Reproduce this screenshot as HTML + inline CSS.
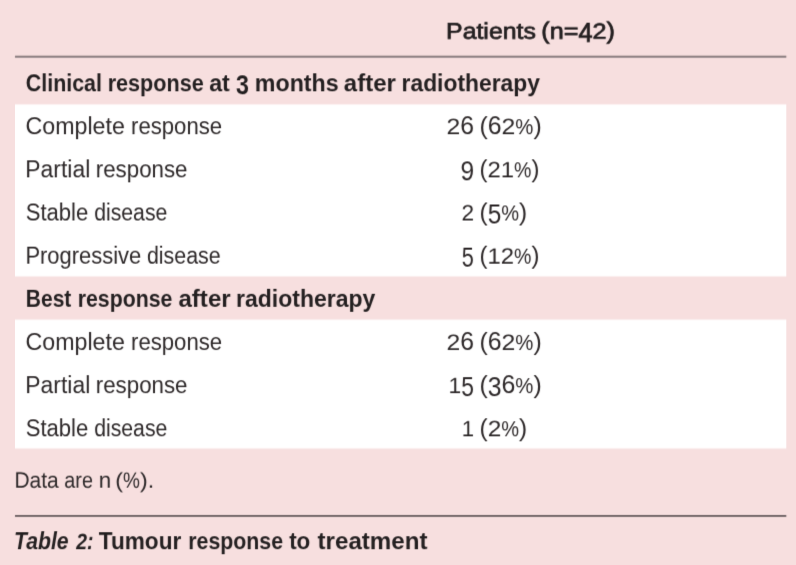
<!DOCTYPE html>
<html lang="en">
<head>
<meta charset="utf-8">
<title>Table 2: Tumour response to treatment</title>
<style>
html,body{margin:0;padding:0;}
body{width:796px;height:565px;background:#f7dfdf;position:relative;overflow:hidden;
  font-family:"Liberation Sans",sans-serif;color:#2d2829;}
#bg{position:absolute;left:0;top:0;width:796px;height:565px;display:block;}
table{border-collapse:collapse;border-spacing:0;margin:0;padding:0;width:771px;position:static;}
td,th,caption,p{padding:0;margin:0;border:0;font-weight:inherit;text-align:left;}
.ln{position:absolute;left:0;top:0;width:796px;height:565px;box-sizing:border-box;white-space:nowrap;font-size:0;line-height:0;display:block;}
.w{display:inline-block;width:0;vertical-align:top;white-space:nowrap;font-size:var(--fs);line-height:var(--lh);transform-origin:0 0;}
.n{font-weight:normal;}
.h{font-weight:normal;text-rendering:geometricPrecision;-webkit-text-stroke:0.75px #231f20;color:#231f20;}
.b{font-weight:bold;color:#231f20;}
.f{font-weight:normal;text-rendering:geometricPrecision;}
.i{font-style:italic;}
.da,.dd,.de,.dn,.pc,.pa{display:inline-block;line-height:inherit;vertical-align:baseline;}
.da{transform-origin:0 var(--a);transform:scaleY(1.15);}
.dd{transform-origin:0 var(--a);transform:translateY(3px) scaleY(1.19);}
.de{transform-origin:0 var(--a);transform:translateY(3px) scaleY(1.19);}
.dn{transform-origin:0 var(--a);transform:scaleY(0.97);text-rendering:geometricPrecision;}
.b .de{transform:translateY(3px) scaleY(1.2);}
.pc{transform-origin:0 var(--a);transform:scaleY(1.2);}
.pa{transform-origin:0 var(--a);transform:scaleY(1.05);}
.pc{font-size:0.82em;}
.f .pa{transform:scaleY(0.95);}
</style><style>#rules{filter:url(#f0);}</style>
</head>
<body>
<div id="page">
<svg id="bg" width="796" height="565" viewBox="0 0 796 565" aria-hidden="true"><defs><filter id="vsoft" filterUnits="userSpaceOnUse" x="0" y="0" width="796" height="565" color-interpolation-filters="sRGB"><feConvolveMatrix order="1 3" kernelMatrix="0.2 0.6 0.2" divisor="1" edgeMode="none" preserveAlpha="false"/></filter></defs><rect x="15.0" y="104.4" width="771.30" height="172.05" fill="#ffffff" filter="url(#vsoft)"/><rect x="15.0" y="319.6" width="771.30" height="128.90" fill="#ffffff" filter="url(#vsoft)"/></svg><svg width="0" height="0" style="position:absolute" aria-hidden="true"><defs><filter id="fm50" filterUnits="userSpaceOnUse" x="0" y="0" width="796" height="565" color-interpolation-filters="sRGB"><feConvolveMatrix order="3" kernelMatrix="0.0525 0.3950 0.0525 0.0525 0.3950 0.0525 0.0000 0.0000 0.0000" divisor="1" edgeMode="duplicate" preserveAlpha="false"/></filter><filter id="fm30" filterUnits="userSpaceOnUse" x="0" y="0" width="796" height="565" color-interpolation-filters="sRGB"><feConvolveMatrix order="3" kernelMatrix="0.0336 0.2528 0.0336 0.0693 0.5214 0.0693 0.0021 0.0158 0.0021" divisor="1" edgeMode="duplicate" preserveAlpha="false"/></filter><filter id="fm15" filterUnits="userSpaceOnUse" x="0" y="0" width="796" height="565" color-interpolation-filters="sRGB"><feConvolveMatrix order="3" kernelMatrix="0.0222 0.1669 0.0222 0.0764 0.5747 0.0764 0.0064 0.0484 0.0064" divisor="1" edgeMode="duplicate" preserveAlpha="false"/></filter><filter id="f0" filterUnits="userSpaceOnUse" x="0" y="0" width="796" height="565" color-interpolation-filters="sRGB"><feConvolveMatrix order="3" kernelMatrix="0.0131 0.0988 0.0131 0.0788 0.5925 0.0788 0.0131 0.0988 0.0131" divisor="1" edgeMode="duplicate" preserveAlpha="false"/></filter><filter id="f15" filterUnits="userSpaceOnUse" x="0" y="0" width="796" height="565" color-interpolation-filters="sRGB"><feConvolveMatrix order="3" kernelMatrix="0.0064 0.0484 0.0064 0.0764 0.5747 0.0764 0.0222 0.1669 0.0222" divisor="1" edgeMode="duplicate" preserveAlpha="false"/></filter><filter id="f20" filterUnits="userSpaceOnUse" x="0" y="0" width="796" height="565" color-interpolation-filters="sRGB"><feConvolveMatrix order="3" kernelMatrix="0.0047 0.0356 0.0047 0.0745 0.5609 0.0745 0.0257 0.1936 0.0257" divisor="1" edgeMode="duplicate" preserveAlpha="false"/></filter><filter id="f30" filterUnits="userSpaceOnUse" x="0" y="0" width="796" height="565" color-interpolation-filters="sRGB"><feConvolveMatrix order="3" kernelMatrix="0.0021 0.0158 0.0021 0.0693 0.5214 0.0693 0.0336 0.2528 0.0336" divisor="1" edgeMode="duplicate" preserveAlpha="false"/></filter><filter id="f35" filterUnits="userSpaceOnUse" x="0" y="0" width="796" height="565" color-interpolation-filters="sRGB"><feConvolveMatrix order="3" kernelMatrix="0.0012 0.0089 0.0012 0.0659 0.4957 0.0659 0.0379 0.2854 0.0379" divisor="1" edgeMode="duplicate" preserveAlpha="false"/></filter></defs></svg>
<svg id="rules" width="796" height="565" viewBox="0 0 796 565" aria-hidden="true" style="position:absolute;left:0;top:0"><rect x="15.00" y="55.70" width="771.30" height="2.0" fill="#877a7c"/><rect x="15.00" y="515.30" width="771.30" height="1.3" fill="#2f292b"/></svg>
<div class="colhead"><span class="ln" style="padding-top:19px;--fs:22.6px;--lh:25px;--a:20px;filter:url(#fm30)"><span class="w h" style="transform:translateX(446.06px) scaleX(1.0999)">Patients</span> <span class="w h" style="transform:translateX(541.34px) scaleX(1.1157)"><span class="pa">(</span>n=<span class="dd">4</span><span class="dn">2</span><span class="pa">)</span></span></span></div>
<table>
<tbody>
<tr><th colspan="2"><span class="ln" style="padding-top:70px;--fs:23px;--lh:26px;--a:21px;filter:url(#f30)"><span class="w b" style="transform:translateX(25.79px) scaleX(0.9313)">Clinical</span> <span class="w b" style="transform:translateX(107.65px) scaleX(0.9395)">response</span> <span class="w b" style="transform:translateX(209.15px) scaleX(1.0128)">at</span> <span class="w b" style="transform:translateX(235.89px) scaleX(1.0087)"><span class="de">3</span></span> <span class="w b" style="transform:translateX(254.84px) scaleX(1.0097)">months</span> <span class="w b" style="transform:translateX(343.83px) scaleX(1.0435)">after</span> <span class="w b" style="transform:translateX(401.57px) scaleX(0.9931)">radiotherapy</span></span></th></tr>
<tr><td><span class="ln" style="padding-top:113px;--fs:23px;--lh:26px;--a:21px;filter:url(#f20)"><span class="w n" style="transform:translateX(25.49px) scaleX(1.0088)">Complete</span> <span class="w n" style="transform:translateX(131.01px) scaleX(0.9629)">response</span></span></td><td><span class="ln" style="padding-top:113px;--fs:23px;--lh:26px;--a:21px;filter:url(#f20)"><span class="w n" style="transform:translateX(446.51px) scaleX(1.0742)"><span class="dn">2</span><span class="da">6</span></span> <span class="w n" style="transform:translateX(479.46px) scaleX(1.0788)"><span class="pa">(</span><span class="da">6</span><span class="dn">2</span><span class="pc">%</span><span class="pa">)</span></span></span></td></tr>
<tr><td><span class="ln" style="padding-top:156px;--fs:23px;--lh:26px;--a:21px;filter:url(#f35)"><span class="w n" style="transform:translateX(25.32px) scaleX(0.9956)">Partial</span> <span class="w n" style="transform:translateX(95.80px) scaleX(0.9694)">response</span></span></td><td><span class="ln" style="padding-top:156px;--fs:23px;--lh:26px;--a:21px;filter:url(#f35)"><span class="w n" style="transform:translateX(460.55px) scaleX(1.0659)"><span class="dd">9</span></span> <span class="w n" style="transform:translateX(479.52px) scaleX(1.0369)"><span class="pa">(</span><span class="dn">2</span><span class="dn">1</span><span class="pc">%</span><span class="pa">)</span></span></span></td></tr>
<tr><td><span class="ln" style="padding-top:200px;--fs:23px;--lh:26px;--a:21px;filter:url(#fm50)"><span class="w n" style="transform:translateX(25.66px) scaleX(0.9598)">Stable</span> <span class="w n" style="transform:translateX(94.20px) scaleX(0.9225)">disease</span></span></td><td><span class="ln" style="padding-top:200px;--fs:23px;--lh:26px;--a:21px;filter:url(#fm50)"><span class="w n" style="transform:translateX(461.52px) scaleX(0.9830)"><span class="dn">2</span></span> <span class="w n" style="transform:translateX(479.48px) scaleX(1.0620)"><span class="pa">(</span><span class="de">5</span><span class="pc">%</span><span class="pa">)</span></span></span></td></tr>
<tr><td><span class="ln" style="padding-top:243px;--fs:23px;--lh:26px;--a:21px;filter:url(#fm30)"><span class="w n" style="transform:translateX(25.39px) scaleX(0.9539)">Progressive</span> <span class="w n" style="transform:translateX(146.89px) scaleX(0.9303)">disease</span></span></td><td><span class="ln" style="padding-top:243px;--fs:23px;--lh:26px;--a:21px;filter:url(#fm30)"><span class="w n" style="transform:translateX(461.78px) scaleX(0.9428)"><span class="de">5</span></span> <span class="w n" style="transform:translateX(479.52px) scaleX(1.0369)"><span class="pa">(</span><span class="dn">1</span><span class="dn">2</span><span class="pc">%</span><span class="pa">)</span></span></span></td></tr>
<tr><th colspan="2"><span class="ln" style="padding-top:286px;--fs:23px;--lh:26px;--a:21px;filter:url(#fm15)"><span class="w b" style="transform:translateX(25.78px) scaleX(0.9131)">Best</span> <span class="w b" style="transform:translateX(77.77px) scaleX(0.9245)">response</span> <span class="w b" style="transform:translateX(178.43px) scaleX(1.0476)">after</span> <span class="w b" style="transform:translateX(236.05px) scaleX(1.0003)">radiotherapy</span></span></th></tr>
<tr><td><span class="ln" style="padding-top:329px;--fs:23px;--lh:26px;--a:21px;filter:url(#f0)"><span class="w n" style="transform:translateX(25.49px) scaleX(1.0088)">Complete</span> <span class="w n" style="transform:translateX(131.01px) scaleX(0.9629)">response</span></span></td><td><span class="ln" style="padding-top:329px;--fs:23px;--lh:26px;--a:21px;filter:url(#f0)"><span class="w n" style="transform:translateX(446.51px) scaleX(1.0742)"><span class="dn">2</span><span class="da">6</span></span> <span class="w n" style="transform:translateX(479.46px) scaleX(1.0788)"><span class="pa">(</span><span class="da">6</span><span class="dn">2</span><span class="pc">%</span><span class="pa">)</span></span></span></td></tr>
<tr><td><span class="ln" style="padding-top:372px;--fs:23px;--lh:26px;--a:21px;filter:url(#f15)"><span class="w n" style="transform:translateX(25.32px) scaleX(0.9956)">Partial</span> <span class="w n" style="transform:translateX(95.80px) scaleX(0.9694)">response</span></span></td><td><span class="ln" style="padding-top:372px;--fs:23px;--lh:26px;--a:21px;filter:url(#f15)"><span class="w n" style="transform:translateX(448.54px) scaleX(0.9919)"><span class="dn">1</span><span class="de">5</span></span> <span class="w n" style="transform:translateX(479.46px) scaleX(1.0788)"><span class="pa">(</span><span class="de">3</span><span class="da">6</span><span class="pc">%</span><span class="pa">)</span></span></span></td></tr>
<tr><td><span class="ln" style="padding-top:415px;--fs:23px;--lh:26px;--a:21px;filter:url(#f30)"><span class="w n" style="transform:translateX(25.66px) scaleX(0.9598)">Stable</span> <span class="w n" style="transform:translateX(94.20px) scaleX(0.9225)">disease</span></span></td><td><span class="ln" style="padding-top:415px;--fs:23px;--lh:26px;--a:21px;filter:url(#f30)"><span class="w n" style="transform:translateX(461.69px) scaleX(0.9595)"><span class="dn">1</span></span> <span class="w n" style="transform:translateX(479.48px) scaleX(1.0620)"><span class="pa">(</span><span class="dn">2</span><span class="pc">%</span><span class="pa">)</span></span></span></td></tr>
</tbody>
</table>
<p class="footnote"><span class="ln" style="padding-top:468px;--fs:22.5px;--lh:25px;--a:20px;filter:url(#fm30)"><span class="w f" style="transform:translateX(14.47px) scaleX(0.9326)">Data</span> <span class="w f" style="transform:translateX(64.36px) scaleX(0.8791)">are</span> <span class="w f" style="transform:translateX(98.80px) scaleX(0.9922)">n</span> <span class="w f" style="transform:translateX(115.26px) scaleX(1.0317)"><span class="pa">(</span><span class="pc">%</span><span class="pa">)</span>.</span></span></p>
<p class="caption"><span class="ln" style="padding-top:528px;--fs:23px;--lh:26px;--a:21px;filter:url(#f20)"><span class="w b i" style="transform:translateX(13.97px) scaleX(0.9222)">Table</span> <span class="w b i" style="transform:translateX(76.24px) scaleX(0.8441)"><span class="dn">2</span>:</span> <span class="w b" style="transform:translateX(98.82px) scaleX(0.9823)">Tumour</span> <span class="w b" style="transform:translateX(188.26px) scaleX(0.9265)">response</span> <span class="w b" style="transform:translateX(289.13px) scaleX(0.9764)">to</span> <span class="w b" style="transform:translateX(317.51px) scaleX(1.0498)">treatment</span></span></p>
</div>
</body>
</html>
